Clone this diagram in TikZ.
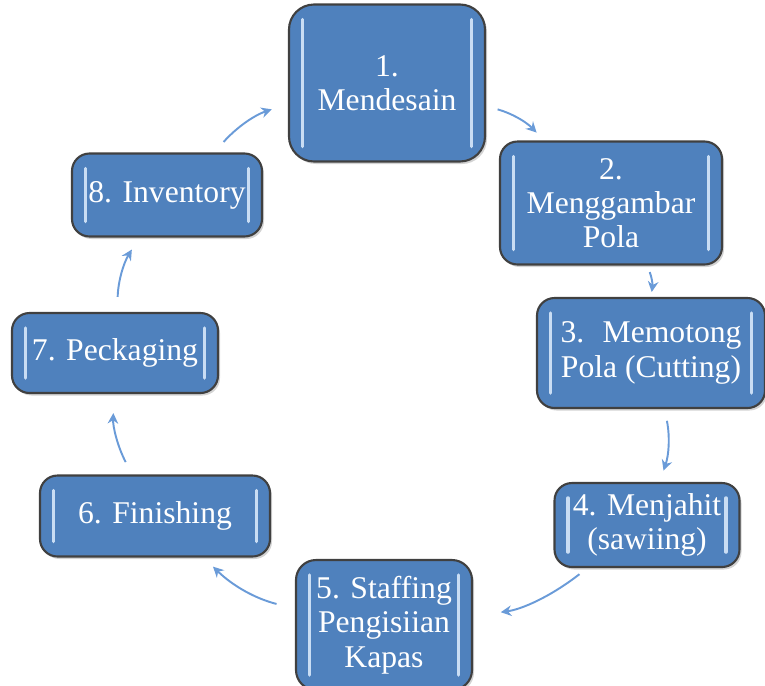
\documentclass[tikz,border=0pt]{standalone}
\usepackage{fontspec}
\setmainfont{Liberation Serif}
\usetikzlibrary{shadows,arrows.meta}
\definecolor{stepblue}{HTML}{4F81BD}
\definecolor{glossblue}{HTML}{C9DDF4}
\definecolor{arrowblue}{HTML}{6A9BD8}

\begin{document}
\begin{tikzpicture}[
	stepbox/.style={shape=rectangle, rounded corners=0.35cm, fill=stepblue, draw=black!75, line width=1.2pt,
		text=white, align=center, inner sep=0pt, font=\fontsize{18}{19.5}\selectfont,
		drop shadow={shadow xshift=0.04cm, shadow yshift=-0.05cm, opacity=0.35},
		path picture={
			\draw[glossblue, line width=2pt, line cap=round] ([xshift=0.27cm,yshift=-0.3cm]path picture bounding box.north west) -- ([xshift=0.27cm,yshift=0.3cm]path picture bounding box.south west);
			\draw[glossblue, line width=2pt, line cap=round] ([xshift=-0.27cm,yshift=-0.3cm]path picture bounding box.north east) -- ([xshift=-0.27cm,yshift=0.3cm]path picture bounding box.south east);
		}},
	flow/.style={arrowblue, line width=1.1pt, -{Stealth[length=6pt, width=6pt]}, bend left=15},
]
\useasboundingbox (0,0) rectangle (15.3,-13.7);

\node[stepbox, minimum width=3.92cm, minimum height=3.14cm, rounded corners=0.5cm] (mendesain) at (7.74,-1.66) {1.\\Mendesain};
\node[stepbox, minimum width=4.44cm, minimum height=2.46cm] (pola) at (12.22,-4.06) {2.\\Menggambar\\Pola};
\node[stepbox, minimum width=4.56cm, minimum height=2.2cm] (cutting) at (13.02,-7.06) {3.~ Memotong\\Pola (Cutting)};
\node[stepbox, minimum width=3.7cm, minimum height=1.68cm] (menjahit) at (12.94,-10.5) {4. Menjahit\\(sawiing)};
\node[stepbox, minimum width=3.52cm, minimum height=2.6cm, rounded corners=0.4cm] (staffing) at (7.68,-12.5) {5. Staffing\\Pengisiian\\Kapas};
\node[stepbox, minimum width=4.6cm, minimum height=1.62cm] (finishing) at (3.1,-10.32) {6. Finishing};
\node[stepbox, minimum width=4.12cm, minimum height=1.6cm] (peckaging) at (2.3,-7.06) {7. Peckaging};
\node[stepbox, minimum width=3.8cm, minimum height=1.66cm] (inventory) at (3.34,-3.9) {8. Inventory};

\draw[flow, shorten <=0.24cm, shorten >=0.22cm] (mendesain) to (pola);
\draw[flow, shorten <=0.14cm, shorten >=0.1cm] (pola) to (cutting);
\draw[flow, shorten <=0.24cm, shorten >=0.24cm] (cutting) to (menjahit);
\draw[flow, shorten <=0.2cm, shorten >=0.56cm] (menjahit) to (staffing);
\draw[flow, shorten <=0.38cm, shorten >=0.26cm] (staffing) to (finishing);
\draw[flow, shorten <=0.28cm, shorten >=0.38cm] (finishing) to (peckaging);
\draw[flow, shorten <=0.3cm, shorten >=0.28cm] (peckaging) to (inventory);
\draw[flow, shorten <=0.28cm, shorten >=0.34cm] (inventory) to (mendesain);
\end{tikzpicture}
\end{document}
